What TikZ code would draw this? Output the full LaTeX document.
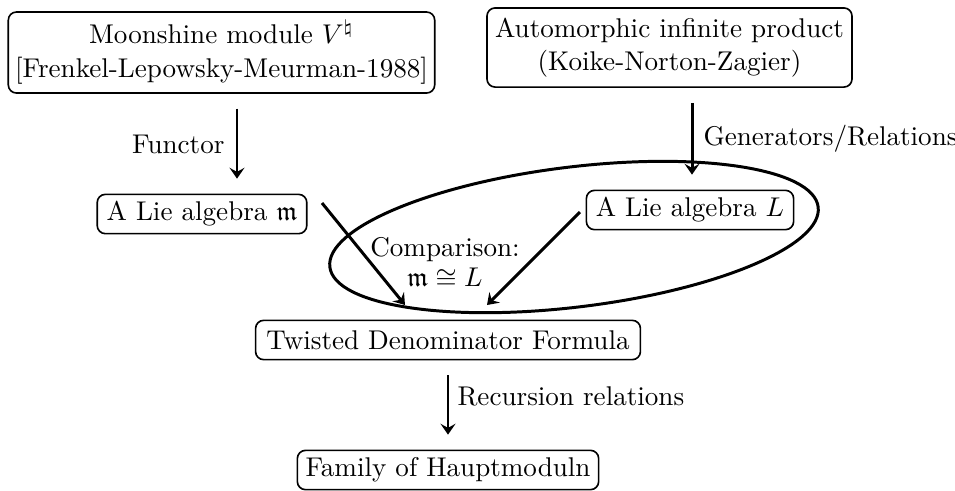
\documentclass[tikz,border=0pt]{standalone}
\usepackage{amssymb}
\usetikzlibrary{arrows.meta}
\begin{document}
\begin{tikzpicture}[x=0.369pt,y=-0.369pt,
  box/.style={draw,rounded corners=3pt,line width=0.6pt,inner xsep=3.5pt,inner ysep=1.5pt,align=center,minimum height=14.5pt},
  arr/.style={line width=1.1pt,-{Stealth[length=4pt,width=5.5pt,inset=1.5pt]}},
  vgap/.style={shorten <=5.5pt,shorten >=5.5pt},
  lbl/.style={inner sep=0pt}]
\useasboundingbox (0,0) rectangle (955,490);
\node[box,inner xsep=2.5pt,minimum height=29.9pt] (vn) at (221.5,52.5) {Moonshine module $V^{\natural}$\\[0.5pt][Frenkel-Lepowsky-Meurman-1988]};
\node[box,inner xsep=3pt,minimum height=29.2pt] (aip) at (669.5,47.5) {Automorphic infinite product\\(Koike-Norton-Zagier)};
\node[box] (lm) at (202,214) {A Lie algebra $\mathfrak{m}$};
\node[box] (lL) at (690,210) {A Lie algebra $L$};
\node[box,inner xsep=4pt] (tdf) at (448,340) {Twisted Denominator Formula};
\node[box,inner xsep=3pt] (fh) at (448,470) {Family of Hauptmoduln};
\draw[line width=1.1pt] (574,237) ellipse[x radius=246,y radius=70,rotate=7];
\node[lbl,align=center] (cmp) at (445,263) {Comparison:\\[-1pt]$\mathfrak{m}\cong L$};
\coordinate (x1) at (237,0);
\coordinate (x2) at (692,0);
\coordinate (x3) at (448,0);
\draw[arr,vgap] (vn.south -| x1) -- (lm.north -| x1);
\node[lbl,anchor=base east] (fun) at (225,153) {Functor};
\draw[arr,vgap] (aip.south -| x2) -- (lL.north -| x2);
\node[lbl,anchor=base west] (gr) at (703,145) {Generators/Relations};
\coordinate (a3s) at (322,203); \coordinate (a3e) at (405,305);
\draw[arr] (a3s) -- (a3e);
\coordinate (a4s) at (580,212); \coordinate (a4e) at (487,305);
\draw[arr] (a4s) -- (a4e);
\draw[arr,vgap] (tdf.south -| x3) -- (fh.north -| x3);
\node[lbl,anchor=base west] (rr) at (457,405) {Recursion relations};
\end{tikzpicture}
\end{document}
